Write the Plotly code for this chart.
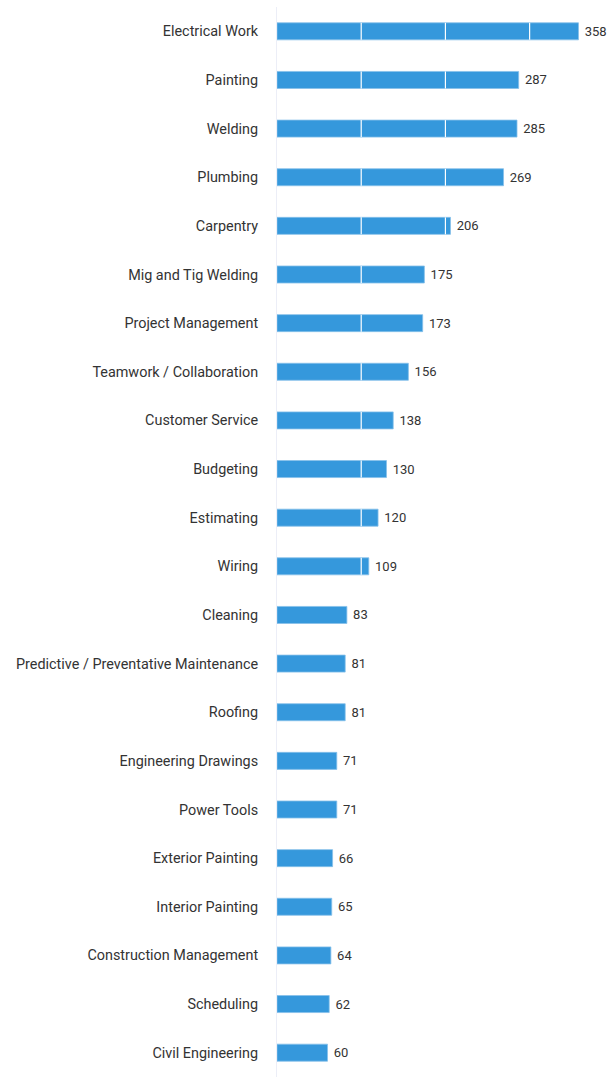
import plotly.graph_objects as go

skills = ["Electrical Work", "Painting", "Welding", "Plumbing", "Carpentry",
          "Mig and Tig Welding", "Project Management", "Teamwork / Collaboration",
          "Customer Service", "Budgeting", "Estimating", "Wiring", "Cleaning",
          "Predictive / Preventative Maintenance", "Roofing", "Engineering Drawings",
          "Power Tools", "Exterior Painting", "Interior Painting",
          "Construction Management", "Scheduling", "Civil Engineering"]
counts = [358, 287, 285, 269, 206, 175, 173, 156, 138, 130, 120, 109, 83,
          81, 81, 71, 71, 66, 65, 64, 62, 60]
grid_ticks = [100, 200, 300]

BARGAP = 0.65
half = (1 - BARGAP) / 2

fig = go.Figure(go.Bar(
    x=counts, y=skills, orientation="h",
    marker=dict(color="#3598dc", line=dict(color="#86c0ea", width=0.8)),
    text=[f" {c}" for c in counts], textposition="outside",
    textfont=dict(family="Roboto", size=13, color="#333333"),
    cliponaxis=False,
))
# white grid lines drawn over the bars (only where the bar reaches them)
for i, c in enumerate(counts):
    for g in grid_ticks:
        if c > g:
            fig.add_shape(type="line", xref="x", yref="y", x0=g, x1=g,
                          y0=i - half, y1=i + half,
                          line=dict(color="white", width=1.2), layer="above")
fig.update_layout(
    width=609, height=1077,
    margin=dict(l=277, r=12, t=7, b=0),
    paper_bgcolor="white", plot_bgcolor="white",
    bargap=BARGAP, showlegend=False,
    font=dict(family="Roboto", size=14, color="#333333"),
    xaxis=dict(range=[0, 380], showticklabels=False, showgrid=False,
               zeroline=False, fixedrange=True),
    yaxis=dict(autorange="reversed", showline=True, linecolor="#eceef7",
               linewidth=1, ticks="", ticklabelstandoff=15, showgrid=False,
               automargin=False,
               tickfont=dict(family="Roboto", size=14.4, color="#333333")),
)
fig.write_html("out.html", config={"displayModeBar": False},
               post_script="document.body.style.margin='0';document.body.style.overflow='hidden';")
